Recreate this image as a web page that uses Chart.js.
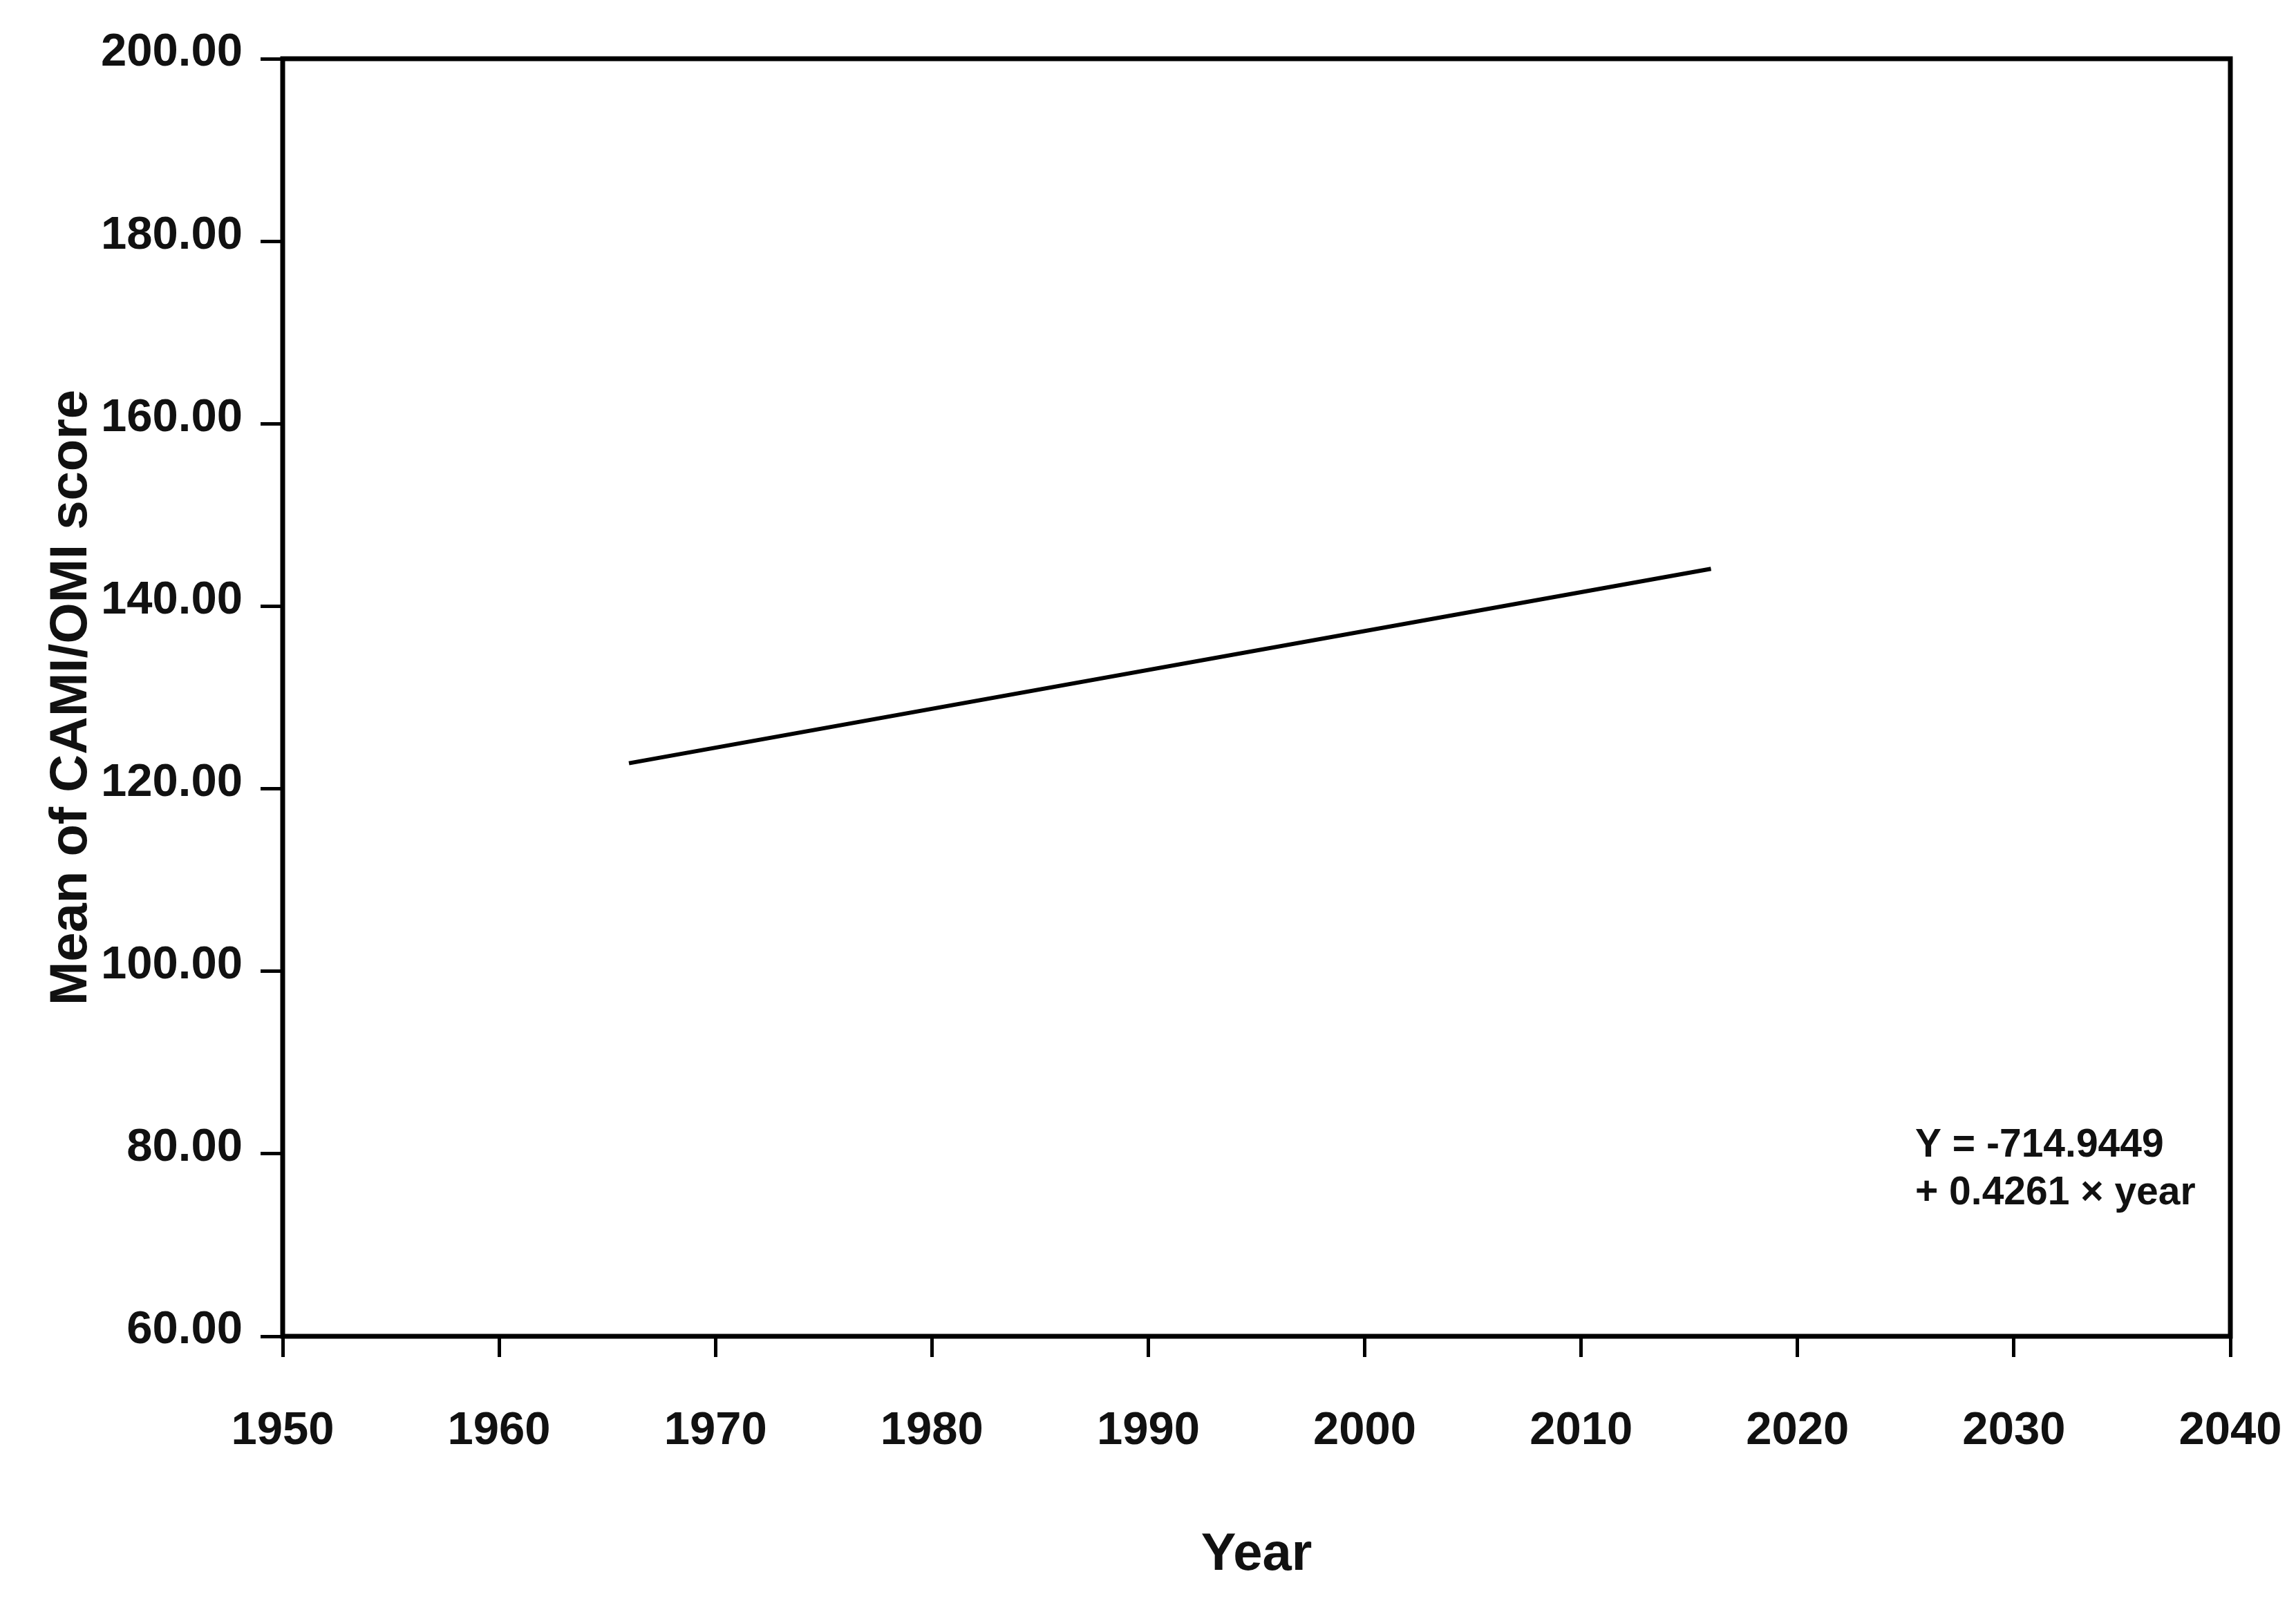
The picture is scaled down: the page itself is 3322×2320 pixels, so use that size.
<!DOCTYPE html>
<html>
<head>
<meta charset="utf-8">
<script src="https://cdn.jsdelivr.net/npm/chart.js@4.4.1/dist/chart.umd.min.js"></script>
<style>
html,body{margin:0;padding:0;background:#ffffff;}
#wrap{width:3322px;height:2320px;position:relative;}
</style>
</head>
<body>
<div id="wrap"><canvas id="c"></canvas></div>
<script>
// ---- data ----
const years = [1966, 2016];
const meanScores = [122.8, 144.1];
const xTickYears = [1950, 1960, 1970, 1980, 1990, 2000, 2010, 2020, 2030, 2040];
const yTickValues = [60, 80, 100, 120, 140, 160, 180, 200];
const xTitle = 'Year';
const yTitle = 'Mean of CAMI/OMI score';
const equationLines = ['Y = -714.9449', '+ 0.4261 \u00d7 year'];

const FONT = '"Liberation Sans", Arial, sans-serif';

const framePlugin = {
  id: 'frame',
  afterDraw(chart) {
    const {ctx, chartArea: a} = chart;
    ctx.save();
    ctx.strokeStyle = '#000';
    ctx.lineWidth = 7;
    ctx.strokeRect(a.left, a.top, a.right - a.left, a.bottom - a.top);
    ctx.restore();
  }
};

const equationPlugin = {
  id: 'equation',
  afterDraw(chart) {
    const {ctx, chartArea: a} = chart;
    ctx.save();
    ctx.fillStyle = '#111';
    ctx.font = 'bold 57px ' + FONT;
    ctx.textAlign = 'left';
    ctx.textBaseline = 'alphabetic';
    const x0 = a.left + 2362;
    ctx.fillText(equationLines[0], x0, a.top + 1589);
    ctx.fillText(equationLines[1], x0, a.top + 1658);
    ctx.restore();
  }
};

const tickFont = {family: FONT, size: 67, weight: 'bold'};
const titleFont = {family: FONT, size: 76, weight: 'bold'};

new Chart(document.getElementById('c'), {
  type: 'scatter',
  data: {
    datasets: [{
      data: years.map((y, i) => ({x: y, y: meanScores[i]})),
      showLine: true,
      borderColor: '#000',
      borderWidth: 6,
      pointRadius: 0,
      fill: false
    }]
  },
  options: {
    responsive: true,
    maintainAspectRatio: false,
    devicePixelRatio: 1,
    animation: false,
    layout: {padding: {left: 0, top: 85, right: 95, bottom: 0}},
    plugins: {legend: {display: false}, tooltip: {enabled: false}},
    scales: {
      x: {
        type: 'linear',
        min: xTickYears[0],
        max: xTickYears[xTickYears.length - 1],
        afterBuildTicks: s => { s.ticks = xTickYears.map(v => ({value: v})); },
        afterFit: s => { s.height = 386; s.paddingLeft = 0; s.paddingRight = 0; },
        grid: {drawOnChartArea: false, drawTicks: true, tickLength: 30, tickWidth: 5, tickColor: '#000', color: '#000'},
        border: {display: true, color: '#000', width: 6},
        ticks: {color: '#111', font: tickFont, padding: 67, maxRotation: 0, autoSkip: false,
                callback: v => String(v)},
        title: {display: true, text: xTitle, color: '#111', font: titleFont, padding: {top: 0, bottom: 23}}
      },
      y: {
        type: 'linear',
        min: yTickValues[0],
        max: yTickValues[yTickValues.length - 1],
        afterBuildTicks: s => { s.ticks = yTickValues.map(v => ({value: v})); },
        afterFit: s => { s.width = 409; s.paddingTop = 0; s.paddingBottom = 0; },
        grid: {drawOnChartArea: false, drawTicks: true, tickLength: 32, tickWidth: 5, tickColor: '#000', color: '#000'},
        border: {display: true, color: '#000', width: 6},
        ticks: {color: '#111', font: tickFont, padding: 26, labelOffset: -8, autoSkip: false,
                callback: v => Number(v).toFixed(2)},
        title: {display: true, text: yTitle, color: '#111', font: titleFont, padding: {top: 58, bottom: 0}}
      }
    }
  },
  plugins: [framePlugin, equationPlugin]
});
</script>
</body>
</html>
